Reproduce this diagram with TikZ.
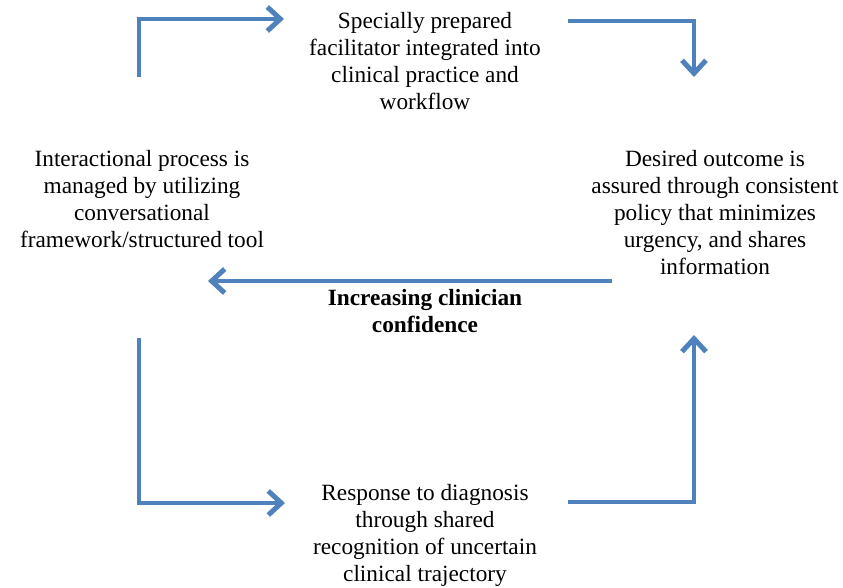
\documentclass[tikz,border=0pt]{standalone}
\usepackage{fontspec}
\setmainfont{Liberation Serif}
\usetikzlibrary{arrows.meta}
\definecolor{arrowblue}{RGB}{79,129,189}
\tikzset{
  flow/.style={draw=arrowblue, line width=4.5pt, line join=miter,
    -{Straight Barb[length=13pt,width=24pt,line width=5pt]}},
  label/.style={align=center, font=\fontsize{23.3}{27}\selectfont, inner sep=0pt},
}
\begin{document}
\begin{tikzpicture}[x=1pt,y=-1pt]
\useasboundingbox (0,0) rectangle (843,588);
% text nodes
\node[label] (top) at (425,61) {Specially prepared\\facilitator integrated into\\clinical practice and\\workflow};
\node[label] (left) at (142,199) {Interactional process is\\managed by utilizing\\conversational\\framework/structured tool};
\node[label] (right) at (715,213) {Desired outcome is\\assured through consistent\\policy that minimizes\\urgency, and shares\\information};
\node[label, font=\fontsize{23.3}{27}\selectfont\bfseries] (mid) at (425,311) {Increasing clinician\\confidence};
\node[label] (bottom) at (425,535) {Response to diagnosis\\through shared\\recognition of uncertain\\clinical trajectory};
% arrow coordinates
\coordinate (a1s) at (139,77);
\coordinate (a1c) at (139,19);
\coordinate (a1e) at (284,19);
\coordinate (a2s) at (568,21);
\coordinate (a2c) at (694,21);
\coordinate (a2e) at (694,77);
\coordinate (a3s) at (612,281);
\coordinate (a3e) at (208,281);
\coordinate (a4s) at (139,338);
\coordinate (a4c) at (139,503);
\coordinate (a4e) at (285,503);
\coordinate (a5s) at (568,502);
\coordinate (a5c) at (694,502);
\coordinate (a5e) at (694,335);
\draw[flow] (a1s) -- (a1c) -- (a1e);
\draw[flow] (a2s) -- (a2c) -- (a2e);
\draw[flow] (a3s) -- (a3e);
\draw[flow] (a4s) -- (a4c) -- (a4e);
\draw[flow] (a5s) -- (a5c) -- (a5e);
\end{tikzpicture}
\end{document}
